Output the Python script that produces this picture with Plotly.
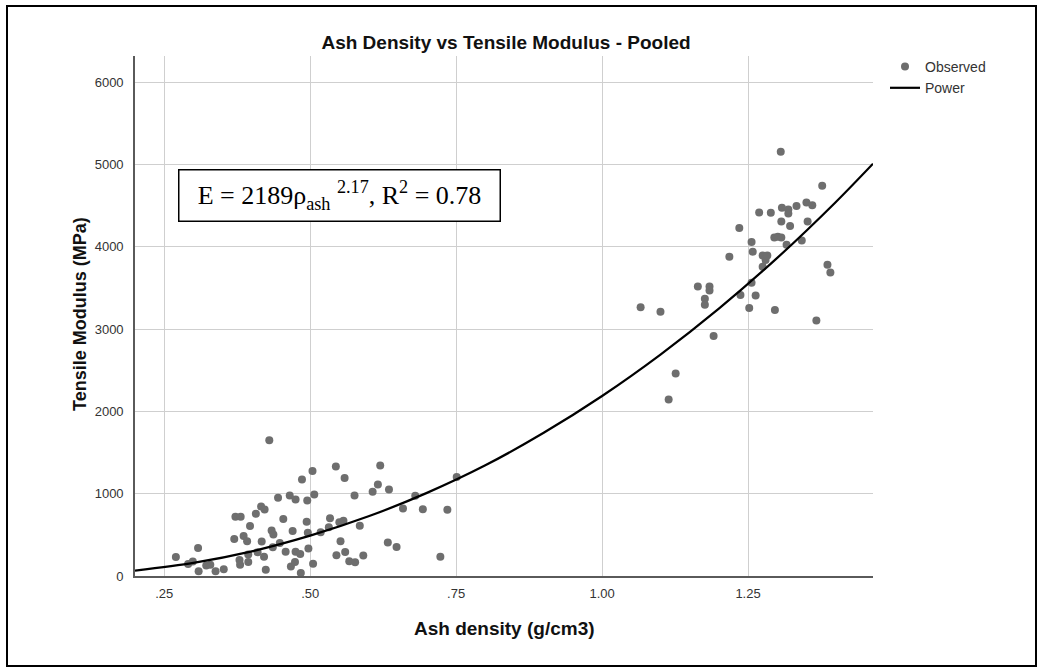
import plotly.graph_objects as go

# ---------------- data ----------------
low_density = [0.270, 0.291, 0.299, 0.308, 0.309, 0.322, 0.329, 0.338, 0.352, 0.370,
               0.372, 0.381, 0.379, 0.380, 0.386, 0.392, 0.394, 0.397, 0.394, 0.407,
               0.416, 0.422, 0.417, 0.410, 0.421, 0.424, 0.430, 0.434, 0.437, 0.436,
               0.448, 0.445, 0.454, 0.458, 0.465, 0.467, 0.474, 0.470, 0.475, 0.475,
               0.483, 0.484, 0.486, 0.494, 0.495, 0.496, 0.497, 0.504, 0.505, 0.507,
               0.518, 0.532, 0.534, 0.544, 0.545, 0.550, 0.557, 0.552, 0.559, 0.560,
               0.567, 0.577, 0.576, 0.585, 0.591, 0.607, 0.616, 0.620, 0.633, 0.635,
               0.648, 0.659, 0.680, 0.693, 0.723, 0.735, 0.751]
low_modulus = [231, 146, 176, 341, 57, 127, 138, 57, 81, 451,
               719, 719, 195, 138, 487, 422, 170, 609, 260, 755,
               844, 808, 418, 290, 235, 77, 1648, 552, 503, 349,
               400, 950, 694, 296, 978, 114, 171, 548, 930, 296,
               268, 37, 1173, 658, 918, 524, 333, 1275, 150, 991,
               531, 592, 702, 1330, 252, 654, 670, 421, 1190, 292,
               179, 166, 978, 612, 248, 1023, 1112, 1344, 406, 1051,
               353, 820, 974, 812, 235, 804, 1202]

high_density = [1.066, 1.100, 1.114, 1.126, 1.164, 1.176, 1.176, 1.184, 1.184, 1.191,
                1.218, 1.235, 1.237, 1.252, 1.256, 1.256, 1.258, 1.263, 1.269, 1.275,
                1.280, 1.275, 1.283, 1.289, 1.295, 1.296, 1.301, 1.306, 1.307, 1.307,
                1.308, 1.316, 1.319, 1.319, 1.322, 1.333, 1.342, 1.350, 1.352, 1.360,
                1.367, 1.377, 1.386, 1.391]
high_modulus = [3265, 3211, 2145, 2461, 3518, 3368, 3296, 3518, 3470, 2915,
                3878, 4227, 3413, 3255, 3563, 4057, 3939, 3409, 4417, 3895,
                3838, 3757, 3895, 4413, 4113, 3231, 4122, 5154, 4113, 4308,
                4474, 4024, 4454, 4405, 4251, 4494, 4077, 4539, 4308, 4506,
                3105, 4741, 3781, 3688]

# fitted "Power" curve
curve_density = [0.20, 0.30, 0.40, 0.50, 0.60, 0.70, 0.80, 0.90,
                 1.00, 1.10, 1.20, 1.30, 1.40, 1.464]
curve_modulus = [65, 160, 300, 490, 725, 1010, 1345, 1740,
                 2187, 2690, 3248, 3865, 4542, 5010]

x_tick_vals = [0.25, 0.50, 0.75, 1.00, 1.25]
x_tick_text = [".25", ".50", ".75", "1.00", "1.25"]
y_tick_vals = [0, 1000, 2000, 3000, 4000, 5000, 6000]
y_tick_text = ["0", "1000", "2000", "3000", "4000", "5000", "6000"]

title_text = "Ash Density vs Tensile Modulus - Pooled"
x_title = "Ash density (g/cm3)"
y_title = "Tensile Modulus (MPa)"
equation = "E = 2189ρ<sub>ash</sub> <sup>2.17</sup>, R<sup>2</sup> = 0.78"

# ---------------- layout geometry (pixels) ----------------
W, H = 1044, 671
L, R, T, B = 135, 171, 56, 95
PW, PH = W - L - R, H - T - B


def px(X):
    return (X - L) / PW


def py(Y):
    return (H - B - Y) / PH


fig = go.Figure()
fig.add_trace(go.Scatter(
    x=low_density + high_density, y=low_modulus + high_modulus,
    mode="markers", name="Observed",
    marker=dict(color="#6e6e6e", size=8, line=dict(width=0)),
))
fig.add_trace(go.Scatter(
    x=curve_density, y=curve_modulus, mode="lines", name="Power",
    line=dict(color="#000000", width=2.2, shape="spline", smoothing=0.8),
))

axis_font = dict(family="Arial, Liberation Sans, sans-serif", size=13, color="#333333")

fig.update_layout(
    width=W, height=H,
    margin=dict(l=L, r=R, t=T, b=B, pad=0),
    paper_bgcolor="white", plot_bgcolor="white",
    showlegend=True,
    legend=dict(
        x=px(885), y=py(51), xanchor="left", yanchor="top",
        font=dict(family="Arial, Liberation Sans, sans-serif", size=14, color="#333333"),
        bgcolor="rgba(0,0,0,0)", borderwidth=0, itemsizing="trace",
        tracegroupgap=0,
    ),
    title=dict(
        text="<b>" + title_text + "</b>",
        x=506 / W, xanchor="center", xref="container",
        y=1 - 42 / H, yanchor="middle", yref="container",
        font=dict(family="Arial, Liberation Sans, sans-serif", size=19, color="#111111"),
    ),
    xaxis=dict(
        range=[0.2, 1.464], tickvals=x_tick_vals, ticktext=x_tick_text,
        showgrid=True, gridcolor="#cfcfcf", gridwidth=1.4,
        zeroline=False, showline=True, linecolor="#5a5a5a", linewidth=1.6,
        ticks="", tickfont=axis_font, ticklabelstandoff=5, mirror=False,
    ),
    yaxis=dict(
        range=[0, 6318], tickvals=y_tick_vals, ticktext=y_tick_text,
        showgrid=True, gridcolor="#cfcfcf", gridwidth=1.4,
        zeroline=False, showline=True, linecolor="#5a5a5a", linewidth=1.6,
        ticks="", tickfont=axis_font, ticklabelstandoff=7, mirror=False,
    ),
)

# axis titles
fig.add_annotation(
    text="<b>" + x_title + "</b>", xref="paper", yref="paper",
    x=px(504), y=py(628), xanchor="center", yanchor="middle", showarrow=False,
    font=dict(family="Arial, Liberation Sans, sans-serif", size=19, color="#111111"),
)
fig.add_annotation(
    text="<b>" + y_title + "</b>", xref="paper", yref="paper",
    x=px(80), y=py(314), xanchor="center", yanchor="middle", showarrow=False,
    textangle=-90,
    font=dict(family="Arial, Liberation Sans, sans-serif", size=18, color="#111111"),
)

# equation box
fig.add_annotation(
    text=equation, xref="paper", yref="paper",
    x=px(339.5), y=py(195.5), xanchor="center", yanchor="middle", showarrow=False,
    width=320, height=50, align="center", valign="middle",
    bgcolor="white", bordercolor="#000000", borderwidth=1.5, borderpad=0,
    font=dict(family="Times New Roman, Liberation Serif, serif", size=26, color="#000000"),
)

# outer frame
fig.add_shape(
    type="rect", xref="paper", yref="paper",
    x0=px(7), x1=px(1036), y0=py(666), y1=py(6),
    line=dict(color="#000000", width=2), fillcolor="rgba(0,0,0,0)", layer="above",
)

fig.write_html("out.html")
